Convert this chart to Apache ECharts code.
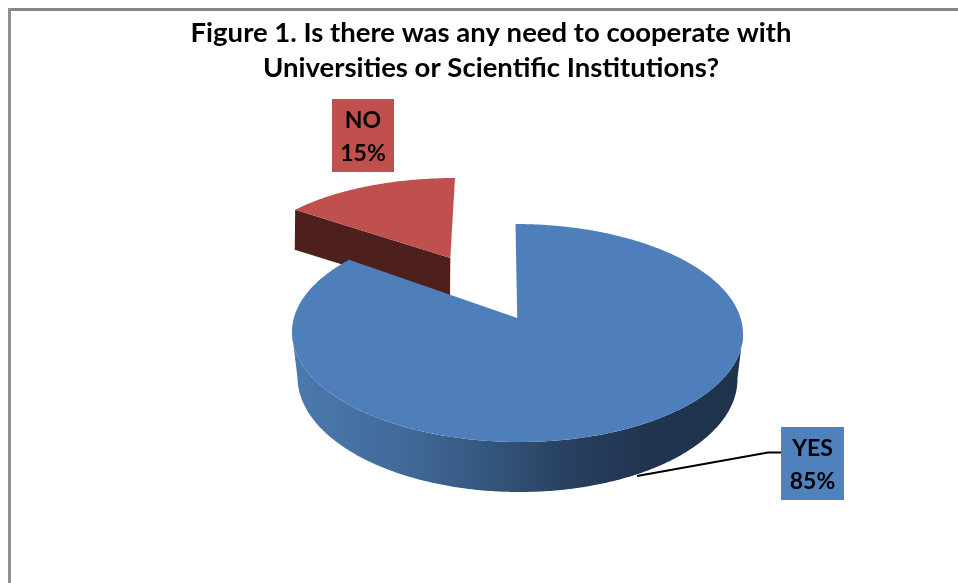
<!DOCTYPE html>
<html>
<head>
<meta charset="utf-8">
<style>html,body{margin:0;padding:0;background:#fff}#c{width:958px;height:583px}</style>
<script src="https://cdn.jsdelivr.net/npm/echarts@6/dist/echarts.min.js"></script>
</head>
<body>
<div id="c"></div>
<script>
const titleLines = ["Figure 1. Is there was any need to cooperate with", "Universities or Scientific Institutions?"];
const categories = ["YES", "NO"];
const values = [85, 15];

const FONT = 'Lato, "Open Sans", sans-serif';
const sliceLayout = {
  YES: {
    top: {cx: 517.5, cy: 333, rx: 225.5, ry: 109, skew: -2},
    bottom: {cx: 517.5, cy: 378, rx: 220, ry: 114, skew: -2},
    e: 0.138, fill: '#4f7fbb', face: '#4d1f1d', box: [781, 427, 63, 73], boxFill: '#4f81bd',
    leader: [[637, 476], [768, 452.5], [781, 452.5]]
  },
  NO: {
    top: {cx: 450, cy: 263, rx: 202.5, ry: 85, skew: 5},
    bottom: {cx: 450, cy: 303, rx: 199, ry: 85, skew: 0},
    e: 0.06, fill: '#c0504d', face: '#4d1f1d', box: [332, 99, 62, 73], boxFill: '#c0504d',
    leader: null
  }
};

const total = values.reduce((a, b) => a + b, 0);

function project(el, e, angle) {
  const u = Math.sin(angle), v = Math.cos(angle);
  const d = 1 + e * v;
  const X = u * Math.sqrt(1 - e * e) / d, Y = (v + e) / d;
  return [el.cx + el.rx * X + el.skew * Y, el.cy - el.ry * Y];
}
function apex(el, e) {
  return [el.cx + el.skew * e, el.cy - el.ry * e];
}
function arc(el, e, a0, a1) {
  const pts = [];
  const n = Math.max(2, Math.ceil((a1 - a0) * 90));
  for (let i = 0; i <= n; i++) pts.push(project(el, e, a0 + (a1 - a0) * i / n));
  return pts;
}

function renderItem(params, api) {
  const idx = params.dataIndex;
  const name = categories[idx];
  const L = sliceLayout[name];
  let before = 0;
  for (let i = 0; i < idx; i++) before += values[i];
  const a0 = before / total * 2 * Math.PI;
  const a1 = (before + api.value(0)) / total * 2 * Math.PI;
  const z2 = (categories.length - idx) * 10;
  const children = [];

  // outer wall: front half of the rim only
  const lo = Math.max(a0, Math.acos(-L.e));
  const hi = Math.min(a1, 2 * Math.PI - Math.acos(-L.e));
  if (hi > lo) {
    const pts = arc(L.top, L.e, lo, hi).concat(arc(L.bottom, L.e, lo, hi).reverse());
    children.push({
      type: 'polygon', z2: z2,
      shape: {points: pts},
      style: {
        fill: new echarts.graphic.LinearGradient(0, 0, 1, 0, [
          {offset: 0, color: '#4c7aae'},
          {offset: 0.24, color: '#426a9b'},
          {offset: 0.42, color: '#35587f'},
          {offset: 0.62, color: '#283f5f'},
          {offset: 0.78, color: '#20354f'},
          {offset: 1, color: '#1f334d'}
        ])
      }
    });
  }
  // cut face turned to the viewer
  if (Math.sin(a0) < -0.01) {
    children.push({
      type: 'polygon', z2: z2,
      shape: {points: [apex(L.top, L.e), project(L.top, L.e, a0), project(L.bottom, L.e, a0), apex(L.bottom, L.e)]},
      style: {fill: L.face}
    });
  }
  // top surface
  const topPts = [apex(L.top, L.e)].concat(arc(L.top, L.e, a0, a1));
  children.push({type: 'polygon', z2: z2 + 1, shape: {points: topPts}, style: {fill: L.fill}});

  // leader and label
  if (L.leader) {
    children.push({type: 'polyline', z2: 100, shape: {points: L.leader}, style: {stroke: '#000', lineWidth: 2, fill: null}});
  }
  const b = L.box;
  children.push({type: 'rect', z2: 101, shape: {x: b[0], y: b[1], width: b[2], height: b[3]}, style: {fill: L.boxFill}});
  children.push({
    type: 'text', z2: 102,
    x: b[0] + b[2] / 2, y: b[1] + b[3] / 2 + 1.5,
    style: {
      text: name + '\n' + api.value(0) + '%',
      fill: '#000', font: 'bold 23px ' + FONT,
      lineHeight: 33, align: 'center', verticalAlign: 'middle'
    }
  });
  return {type: 'group', children: children};
}

const chart = echarts.init(document.getElementById('c'), null, {renderer: 'canvas'});
chart.setOption({
  animation: false,
  backgroundColor: '#ffffff',
  title: {
    text: titleLines.join('\n'),
    left: 486, top: 11, textAlign: 'center',
    textStyle: {fontFamily: FONT, fontWeight: 'bold', fontSize: 27.5, color: '#000', lineHeight: 35}
  },
  graphic: [
    {type: 'line', shape: {x1: 9, y1: 9.5, x2: 958, y2: 9.5}, style: {stroke: '#868686', lineWidth: 3}},
    {type: 'line', shape: {x1: 9.5, y1: 8, x2: 9.5, y2: 583}, style: {stroke: '#8f8f8f', lineWidth: 3}}
  ],
  series: [{
    type: 'custom',
    coordinateSystem: 'none',
    renderItem: renderItem,
    data: values.map((v, i) => ({name: categories[i], value: [v]})),
    silent: true
  }]
});
</script>
</body>
</html>
